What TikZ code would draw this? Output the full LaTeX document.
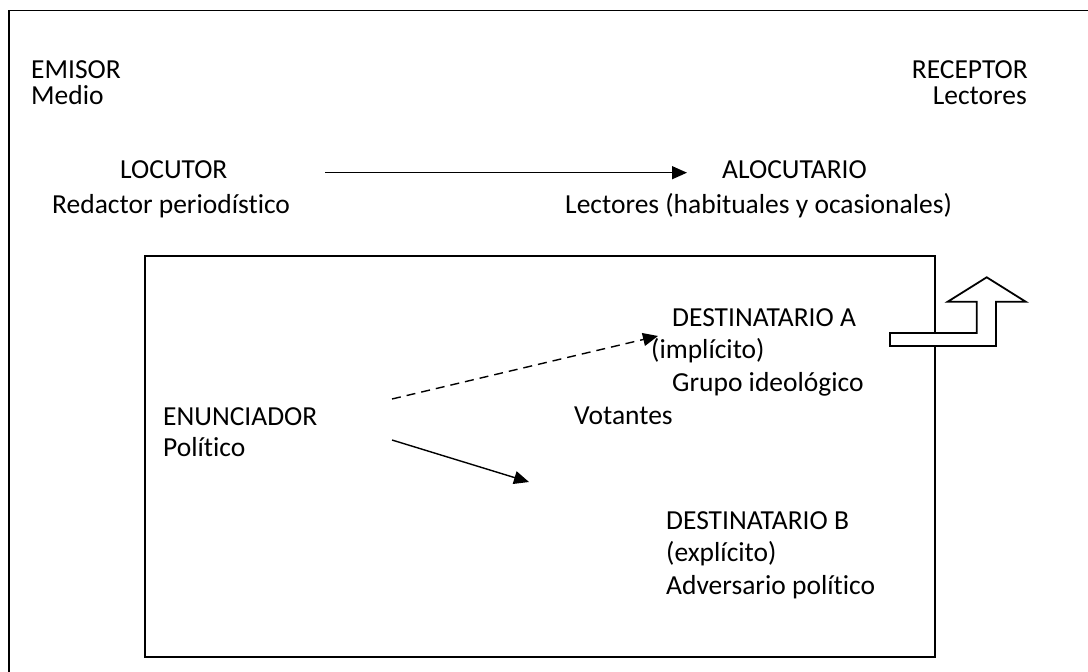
\documentclass[tikz,border=0pt]{standalone}
\usepackage{fontspec}
\setmainfont{Carlito}[Ligatures=NoCommon]
\usetikzlibrary{arrows.meta}
\begin{document}
\begin{tikzpicture}[x=1pt,y=-1pt,
  lbl/.style={inner sep=0pt, anchor=base west, font=\fontsize{27.5}{32}\selectfont},
  lblr/.style={lbl, anchor=base east},
  frame/.style={line width=1.8pt},
  conn/.style={line width=1.4pt, -{Triangle[length=15pt,width=13pt]}},
  dconn/.style={conn, dash pattern=on 9pt off 6pt},
  bigarrow/.style={line width=1.8pt, fill=white, line join=miter}
]
\useasboundingbox (0,0) rectangle (1088,672);
% outer frame (open on right and bottom)
\draw[frame] (9,672) -- (9,10.5) -- (1088,10.5);
% inner box
\draw[frame] (145,256) rectangle (935,657);

% texts
\node[lbl] (emisor) at (31,78) {EMISOR};
\node[lbl] (medio) at (31,104) {Medio};
\node[lblr] (receptor) at (1028,78) {RECEPTOR};
\node[lblr] (lectores) at (1027,104) {Lectores};
\node[lbl] (locutor) at (120,178) {LOCUTOR};
\node[lbl] (redactor) at (52,213) {Redactor periodístico};
\node[lbl] (alocutario) at (722,178) {ALOCUTARIO};
\node[lbl] (lectoresb) at (565,213) {Lectores (habituales y ocasionales)};
\node[lbl] (destA) at (672,326) {DESTINATARIO A};
\node[lbl] (impl) at (651,358) {(implícito)};
\node[lbl] (grupo) at (672,391) {Grupo ideológico};
\node[lbl] (votantes) at (574,424) {Votantes};
\node[lbl] (enunciador) at (163,425) {ENUNCIADOR};
\node[lbl] (politico) at (163,456) {Político};
\node[lbl] (destB) at (666,529) {DESTINATARIO B};
\node[lbl] (expl) at (666,561) {(explícito)};
\node[lbl] (adversario) at (666,594) {Adversario político};

% connector end points
\coordinate (locE) at (325,172.7);
\coordinate (alocW) at (687,172.7);
\coordinate (enuA) at (392,399);
\coordinate (destAW) at (658,336);
\coordinate (enuB) at (392,440);
\coordinate (destBW) at (529,482);

\draw[conn] (locE) -- (alocW);
\draw[dconn] (enuA) -- (destAW);
\draw[conn] (enuB) -- (destBW);

% block arrow
\draw[bigarrow] (890,333) -- (976.7,333) -- (976.7,301.7) -- (947.7,301.7)
  -- (986.7,277.3) -- (1025.7,301.7) -- (996,301.7) -- (996,346) -- (890,346) -- cycle;
\end{tikzpicture}
\end{document}
